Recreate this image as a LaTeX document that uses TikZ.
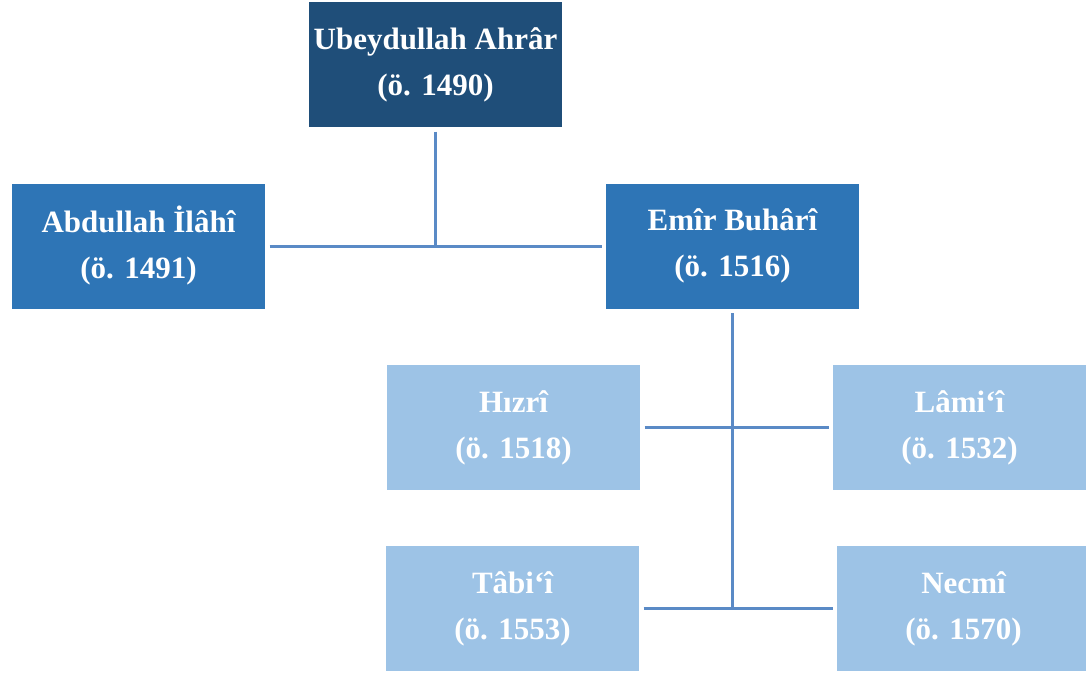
\documentclass[tikz,border=0pt]{standalone}
\usepackage{fontspec}
\setmainfont{Liberation Serif}
\usepackage{tikz}
\usetikzlibrary{positioning}
\definecolor{darkblue}{HTML}{1F4E79}
\definecolor{midblue}{HTML}{2E75B6}
\definecolor{lightblue}{HTML}{9DC3E6}
\definecolor{linkblue}{HTML}{5A8AC6}

\begin{document}
\begin{tikzpicture}[x=1pt,y=-1pt,line width=3pt,
                    shorten >=3pt,shorten <=3pt]
  \tikzstyle{every node}=[minimum width=253pt,minimum height=125pt,inner sep=0pt,
                          align=center,text=white,
                          font=\fontsize{31}{46}\selectfont\bfseries]
  \tikzstyle{topbox}=[fill=darkblue]
  \tikzstyle{midbox}=[fill=midblue]
  \tikzstyle{lowbox}=[fill=lightblue]
  \tikzstyle{link}=[draw=linkblue]
  \useasboundingbox (0,0) rectangle (1086,675);

  \node[topbox] (U) at (435.5,64.5) {Ubeydullah Ahrâr\\(ö. 1490)};
  \node[midbox] (A) at (138.5,246)  {Abdullah İlâhî\\(ö. 1491)};
  \node[midbox] (E) at (732.5,246)  {Emîr Buhârî\\(ö. 1516)};
  \node[lowbox] (H) at (513.5,427.5) {Hızrî\\(ö. 1518)};
  \node[lowbox] (L) at (959.5,427.5) {Lâmi‘î\\(ö. 1532)};
  \node[lowbox] (T) at (512.5,608.5) {Tâbi‘î\\(ö. 1553)};
  \node[lowbox] (N) at (963.5,608.5) {Necmî\\(ö. 1570)};

  \path[link] (A.east) edge (E.west)
        (H.east) edge (L.west)
        (T.east) edge (N.west);
  \draw[link,shorten >=0pt] (U.south) -- (U.south |- A.east);
  \draw[link,shorten >=0pt] (E.south) -- (E.south |- T.east);
\end{tikzpicture}
\end{document}
